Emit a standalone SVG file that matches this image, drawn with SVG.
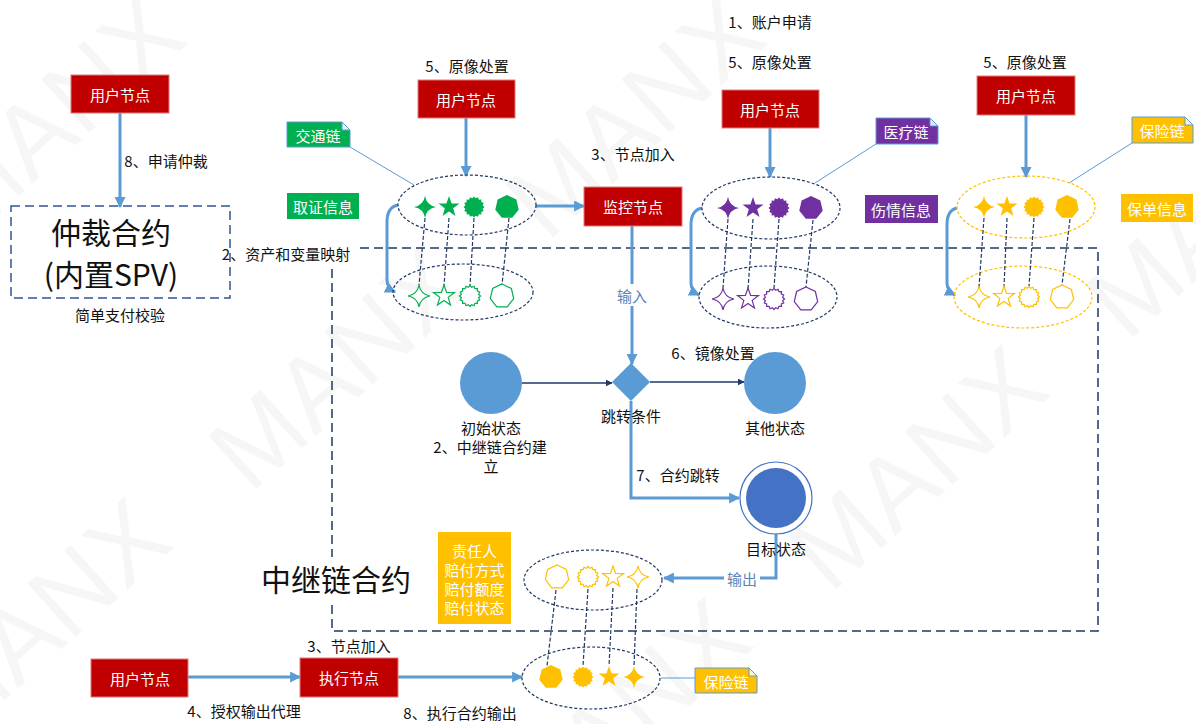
<svg xmlns="http://www.w3.org/2000/svg" width="1196" height="724" viewBox="0 0 1196 724">
<defs>
<style>
text{font-family:"Noto Sans CJK SC","Noto Sans",sans-serif}
.lbl{font-size:15px;fill:#111;text-anchor:middle;dominant-baseline:central}
.wl{font-size:15px;fill:#fff;text-anchor:middle;dominant-baseline:central}
.bl{font-size:15px;fill:#5A86B8;text-anchor:middle;dominant-baseline:central}
.big{font-size:30px;fill:#111;text-anchor:middle;dominant-baseline:central}
.red{fill:#C00000;stroke:#E37A7A;stroke-width:1}
.arr{fill:none;stroke:#5B9BD5;stroke-width:3;marker-end:url(#ab)}
.thin{fill:none;stroke:#1F3864;stroke-width:1.3;marker-end:url(#an)}
.lead{fill:none;stroke:#5B9BD5;stroke-width:1}
.ell{fill:none;stroke:#1F3864;stroke-width:1.2;stroke-dasharray:3 2}
.elly{fill:none;stroke:#FFC000;stroke-width:1.2;stroke-dasharray:3 2}
.dl{fill:none;stroke:#1F3864;stroke-width:1.2;stroke-dasharray:4 2}
.box{fill:none;stroke:#1F3864;stroke-width:1.5;stroke-dasharray:9 5}
.wm{font-family:"Liberation Sans",sans-serif;font-size:104px;fill:#000;fill-opacity:0.035}
.fg{fill:#00B050}.og{fill:#fff;stroke:#00B050;stroke-width:1.2}
.fp{fill:#7030A0}.op{fill:#fff;stroke:#7030A0;stroke-width:1.2}
.fy{fill:#FFC000}.oy{fill:#fff;stroke:#FFC000;stroke-width:1.2}
.fold{stroke:#5B9BD5;stroke-width:1}
</style>
<marker id="ab" viewBox="0 0 10 10" refX="9" refY="5" markerWidth="11" markerHeight="11" markerUnits="userSpaceOnUse" orient="auto"><path d="M0,0 L10,5 L0,10 Z" fill="#5B9BD5"/></marker>
<marker id="an" viewBox="0 0 10 10" refX="9" refY="5" markerWidth="7" markerHeight="7" markerUnits="userSpaceOnUse" orient="auto"><path d="M0,0 L10,5 L0,10 Z" fill="#1F3864"/></marker>
<path id="s4" d="M0,-11 Q1.6,-1.6 11,0 Q1.6,1.6 0,11 Q-1.6,1.6 -11,0 Q-1.6,-1.6 0,-11 Z"/>
<path id="s5" d="M0,-11 L2.59,-3.56 L10.46,-3.4 L4.19,1.36 L6.47,8.9 L0,4.4 L-6.47,8.9 L-4.19,1.36 L-10.46,-3.4 L-2.59,-3.56 Z"/>
<path id="sb" d="M10.5,0 L8.63,1.72 L9.7,4.02 L7.32,4.89 L7.42,7.42 L4.89,7.32 L4.02,9.7 L1.72,8.63 L0,10.5 L-1.72,8.63 L-4.02,9.7 L-4.89,7.32 L-7.42,7.42 L-7.32,4.89 L-9.7,4.02 L-8.63,1.72 L-10.5,0 L-8.63,-1.72 L-9.7,-4.02 L-7.32,-4.89 L-7.42,-7.42 L-4.89,-7.32 L-4.02,-9.7 L-1.72,-8.63 L0,-10.5 L1.72,-8.63 L4.02,-9.7 L4.89,-7.32 L7.42,-7.42 L7.32,-4.89 L9.7,-4.02 L8.63,-1.72 Z"/>
<path id="s7" d="M0,-12 L9.38,-7.48 L11.7,2.67 L5.21,10.81 L-5.21,10.81 L-11.7,2.67 L-9.38,-7.48 Z"/>
</defs>
<rect width="1196" height="724" fill="#fff"/>

<g id="watermark">
<text class="wm" transform="translate(830,595) rotate(-42)">MANX</text>
<text class="wm" transform="translate(250,495) rotate(-42)">MANX</text>
<text class="wm" transform="translate(-47,747) rotate(-42)">MANX</text>
<text class="wm" transform="translate(533,847) rotate(-42)">MANX</text>
<text class="wm" transform="translate(1127,343) rotate(-42)">MANX</text>
<text class="wm" transform="translate(547,243) rotate(-42)">MANX</text>
<text class="wm" transform="translate(-33,243) rotate(-42)">MANX</text>
</g>

<g id="relay-contract">
<rect class="box" x="332" y="248" width="766" height="383"/>
<rect x="256" y="557" width="162" height="43" fill="#fff"/>
<text class="big" x="336" y="578">中继链合约</text>
</g>

<g id="connectors">
<line class="arr" x1="120" y1="113" x2="120" y2="207"/>
<line class="arr" x1="466" y1="118" x2="466" y2="176"/>
<line class="arr" x1="536" y1="206" x2="584" y2="206"/>
<line class="arr" x1="770" y1="128" x2="770" y2="177"/>
<line class="arr" x1="1026" y1="115" x2="1026" y2="177"/>
<line class="arr" x1="632" y1="226" x2="632" y2="364"/>
<path class="arr" d="M398,205 Q387,207 387,222 L387,280 Q387,288 395,292"/>
<path class="arr" d="M702,208 Q691,210 691,225 L691,283 Q691,291 699,295"/>
<path class="arr" d="M957,208 Q947,210 947,225 L947,283 Q947,291 955,295"/>
<path class="arr" d="M631,401 V498 H739"/>
<path class="arr" d="M776,534 V578 H664"/>
<line class="arr" x1="188" y1="677" x2="300" y2="677"/>
<line class="arr" x1="398" y1="677" x2="522" y2="677"/>
<line class="thin" x1="522" y1="383" x2="612" y2="383"/>
<line class="thin" x1="650" y1="382" x2="744" y2="382"/>
<line class="lead" x1="350" y1="147" x2="414" y2="185"/>
<line class="lead" x1="876" y1="144" x2="815" y2="183"/>
<line class="lead" x1="1132" y1="143" x2="1069" y2="183"/>
<line class="lead" x1="661" y1="678" x2="695" y2="678"/>
<text class="lbl" x="166" y="160">8、申请仲裁</text>
<rect x="219" y="242" width="136" height="22" fill="#fff"/>
<text class="lbl" x="286" y="253">2、资产和变量映射</text>
<rect x="615" y="284" width="34" height="22" fill="#fff"/>
<text class="bl" x="632" y="295">输入</text>
<text class="lbl" x="678" y="474">7、合约跳转</text>
<text class="lbl" x="713" y="352">6、镜像处置</text>
<rect x="724" y="567" width="36" height="22" fill="#fff"/>
<text class="bl" x="742" y="578">输出</text>
<text class="lbl" x="244" y="710">4、授权输出代理</text>
<text class="lbl" x="460" y="712">8、执行合约输出</text>
<text class="lbl" x="633" y="153">3、节点加入</text>
<text class="lbl" x="349" y="645">3、节点加入</text>
</g>

<g id="user-arbitration">
<rect class="red" x="71" y="75" width="98" height="38"/>
<text class="wl" x="120" y="94">用户节点</text>
</g>

<g id="arbitration-contract">
<rect x="11" y="206" width="219" height="92" fill="none" stroke="#2F5597" stroke-width="1.5" stroke-dasharray="9 5"/>
<text class="big" x="111" y="231">仲裁合约</text>
<text class="big" x="111" y="273">(内置SPV)</text>
<text class="lbl" x="120" y="314">简单支付校验</text>
</g>

<g id="user-traffic">
<text class="lbl" x="467" y="65">5、原像处置</text>
<rect class="red" x="418" y="80" width="97" height="38"/>
<text class="wl" x="466" y="99">用户节点</text>
</g>

<g id="callout-traffic">
<path d="M287,122 H342 L350,130 V147 H287 Z" fill="#00B050" class="fold"/>
<path d="M342,122 V130 H350 Z" fill="#E8F5EE" class="fold"/>
<text class="wl" x="318" y="135">交通链</text>
</g>
<g id="info-traffic">
<rect x="287" y="193" width="72" height="26" fill="#00B050"/>
<text class="wl" x="323" y="206">取证信息</text>
</g>

<g id="traffic-chain">
<ellipse class="ell" cx="467" cy="205" rx="69" ry="30"/>
<ellipse class="ell" cx="463" cy="292" rx="70" ry="28"/>
<path class="dl" d="M425,218 L419,285 M449,218 L444,286 M474,218 L470,286 M509,218 L502,285"/>
<use href="#s4" x="425" y="207" class="fg"/>
<use href="#s5" x="449" y="207" class="fg"/>
<use href="#sb" x="474" y="207" class="fg"/>
<use href="#s7" x="507" y="207" class="fg"/>
<use href="#s4" x="419" y="296" class="og"/>
<use href="#s5" x="444" y="296" class="og"/>
<use href="#sb" x="470" y="296" class="og"/>
<use href="#s7" x="502" y="296" class="og"/>
</g>

<g id="monitor-node">
<rect class="red" x="584" y="187" width="98" height="39"/>
<text class="wl" x="633" y="206">监控节点</text>
</g>

<g id="user-medical">
<text class="lbl" x="770" y="21">1、账户申请</text>
<text class="lbl" x="770" y="61">5、原像处置</text>
<rect class="red" x="722" y="90" width="97" height="38"/>
<text class="wl" x="770" y="109">用户节点</text>
</g>

<g id="callout-medical">
<path d="M876,118 H930 L938,126 V144 H876 Z" fill="#7030A0" class="fold"/>
<path d="M930,118 V126 H938 Z" fill="#EFE6F5" class="fold"/>
<text class="wl" x="906" y="131">医疗链</text>
</g>
<g id="info-medical">
<rect x="865" y="195" width="73" height="28" fill="#7030A0"/>
<text class="wl" x="901" y="209">伤情信息</text>
</g>

<g id="medical-chain">
<ellipse class="ell" cx="771" cy="208" rx="69" ry="31"/>
<ellipse class="ell" cx="768" cy="297" rx="69" ry="31"/>
<path class="dl" d="M728,219 L723,288 M753,219 L748,289 M779,219 L774,288 M813,220 L806,287"/>
<use href="#s4" x="728" y="208" class="fp"/>
<use href="#s5" x="753" y="208" class="fp"/>
<use href="#sb" x="779" y="208" class="fp"/>
<use href="#s7" x="811" y="208" class="fp"/>
<use href="#s4" x="723" y="299" class="op"/>
<use href="#s5" x="748" y="299" class="op"/>
<use href="#sb" x="774" y="299" class="op"/>
<use href="#s7" x="806" y="299" class="op"/>
</g>

<g id="user-insurance">
<text class="lbl" x="1025" y="61">5、原像处置</text>
<rect class="red" x="977" y="76" width="98" height="39"/>
<text class="wl" x="1026" y="95">用户节点</text>
</g>

<g id="callout-insurance">
<path d="M1132,117 H1185 L1193,125 V143 H1132 Z" fill="#FFC000" class="fold"/>
<path d="M1185,117 V125 H1193 Z" fill="#FFF4D6" class="fold"/>
<text class="wl" x="1162" y="130">保险链</text>
</g>
<g id="info-insurance">
<rect x="1121" y="194" width="72" height="28" fill="#FFC000"/>
<text class="wl" x="1157" y="208">保单信息</text>
</g>

<g id="insurance-chain">
<ellipse class="elly" cx="1026" cy="207" rx="69" ry="31"/>
<ellipse class="elly" cx="1023" cy="297" rx="69" ry="31"/>
<path class="dl" d="M984,218 L979,287 M1007,218 L1004,287 M1034,218 L1029,286 M1070,219 L1062,285"/>
<use href="#s4" x="984" y="207" class="fy"/>
<use href="#s5" x="1007" y="207" class="fy"/>
<use href="#sb" x="1034" y="207" class="fy"/>
<use href="#s7" x="1067" y="207" class="fy"/>
<use href="#s4" x="979" y="297" class="oy"/>
<use href="#s5" x="1004" y="297" class="oy"/>
<use href="#sb" x="1029" y="297" class="oy"/>
<use href="#s7" x="1062" y="297" class="oy"/>
</g>

<g id="state-initial">
<circle cx="491" cy="383" r="31" fill="#5B9BD5"/>
<text class="lbl" x="491" y="427">初始状态</text>
<text class="lbl" x="490" y="446">2、中继链合约建</text>
<text class="lbl" x="491" y="465">立</text>
</g>
<g id="jump-condition">
<path d="M631,363 L650,382 L631,401 L612,382 Z" fill="#5B9BD5"/>
<text class="lbl" x="631" y="415">跳转条件</text>
</g>
<g id="state-other">
<circle cx="775" cy="383" r="31" fill="#5B9BD5"/>
<text class="lbl" x="775" y="427">其他状态</text>
</g>
<g id="state-target">
<circle cx="776" cy="498" r="36" fill="#fff" stroke="#4472C4" stroke-width="1.2"/>
<circle cx="776" cy="498" r="30" fill="#4472C4"/>
<text class="lbl" x="776" y="548">目标状态</text>
</g>

<g id="output-info">
<rect x="438" y="532" width="73" height="92" fill="#FFC000"/>
<text class="wl" x="474.5" y="550">责任人</text>
<text class="wl" x="474.5" y="569">赔付方式</text>
<text class="wl" x="474.5" y="588">赔付额度</text>
<text class="wl" x="474.5" y="607">赔付状态</text>
</g>

<g id="output-chain">
<ellipse class="ell" cx="593" cy="580" rx="69" ry="30"/>
<ellipse class="ell" cx="591" cy="678" rx="69" ry="31"/>
<path class="dl" d="M556,590 L547,666 M588,589 L583,666 M613,588 L609,666 M637,589 L634,666"/>
<use href="#s7" x="557" y="577" class="oy"/>
<use href="#sb" x="588" y="577" class="oy"/>
<use href="#s5" x="613" y="577" class="oy"/>
<use href="#s4" x="638" y="577" class="oy"/>
<use href="#s7" x="551" y="677" class="fy"/>
<use href="#sb" x="583" y="677" class="fy"/>
<use href="#s5" x="609" y="677" class="fy"/>
<use href="#s4" x="634" y="677" class="fy"/>
</g>

<g id="callout-output">
<path d="M695,668 H749 L757,676 V693 H695 Z" fill="#FFC000" class="fold"/>
<path d="M749,668 V676 H757 Z" fill="#FFF4D6" class="fold"/>
<text class="wl" x="726" y="681">保险链</text>
</g>

<g id="user-bottom">
<rect class="red" x="91" y="659" width="97" height="38"/>
<text class="wl" x="140" y="678">用户节点</text>
</g>
<g id="exec-node">
<rect class="red" x="300" y="658" width="98" height="39"/>
<text class="wl" x="349" y="677">执行节点</text>
</g>
</svg>
